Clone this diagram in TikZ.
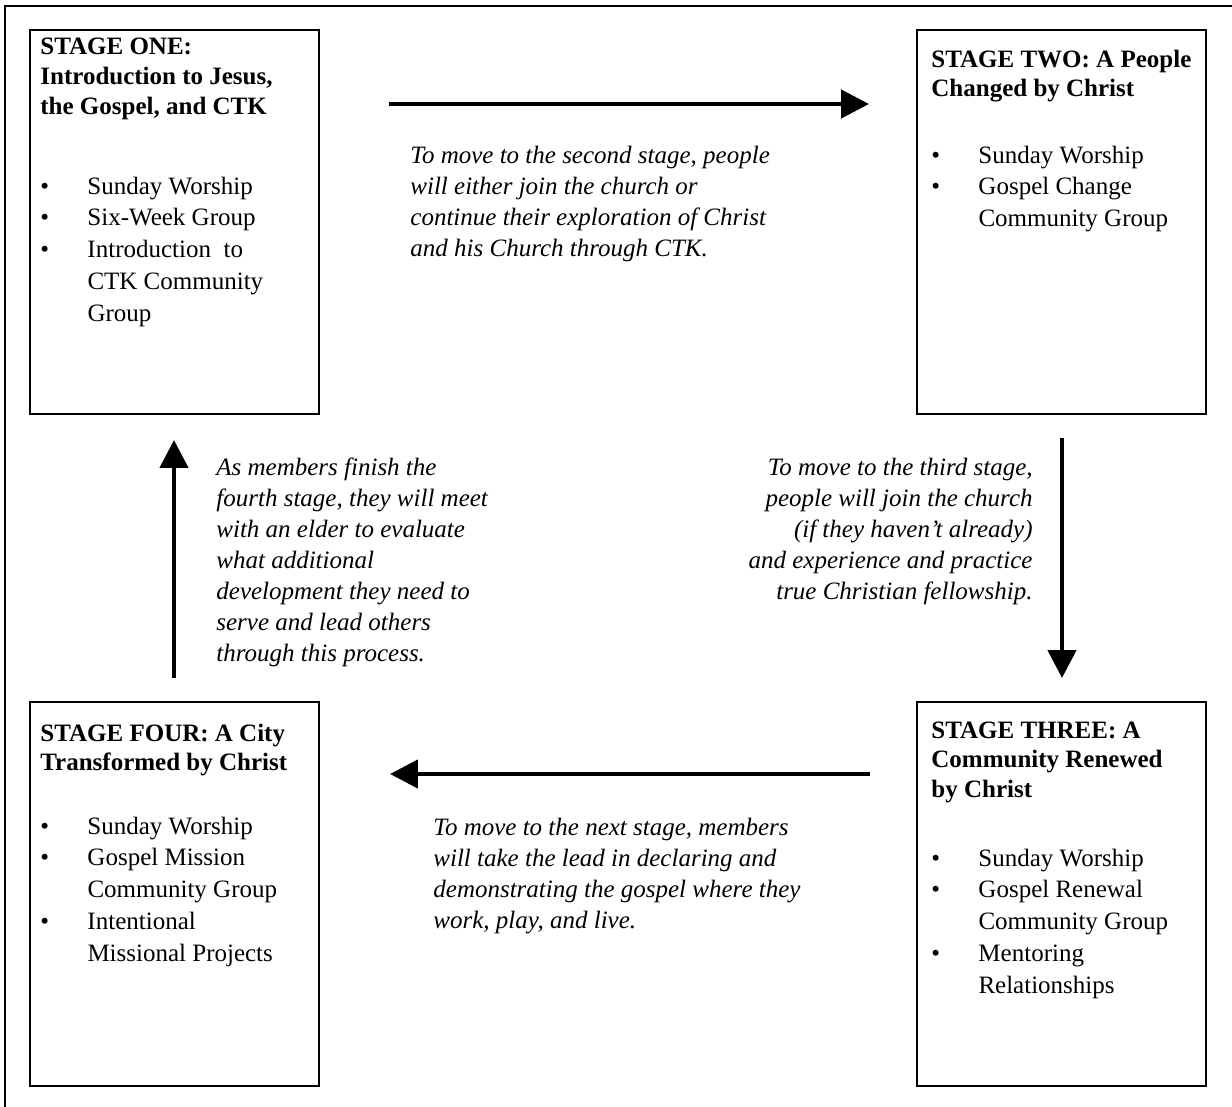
\documentclass[tikz,border=0pt]{standalone}
\usepackage{fontspec}
\setmainfont{Liberation Serif}
\usetikzlibrary{arrows.meta}
\usetikzlibrary{positioning}

\newcommand{\itm}{\makebox[22.6pt][l]{\textbullet}}
\newcommand{\cnt}{\hspace*{22.6pt}}

\begin{document}
\begin{tikzpicture}[x=0.48pt,y=-0.48pt,
  stagebox/.style={draw,line width=1pt,anchor=north west,inner sep=0pt,outer sep=0pt,
    minimum width=138.5pt,minimum height=184.3pt},
  stagehead/.style={anchor=base west,align=flush left,inner sep=0pt,text width=150pt,font=\bfseries\fontsize{12}{14.3}\selectfont},
  stagelist/.style={anchor=base west,align=flush left,inner sep=0pt,text width=150pt,font=\fontsize{12}{15.3}\selectfont},
  note/.style={anchor=base west,align=flush left,inner sep=0pt,text width=200pt,font=\itshape\fontsize{12}{14.9}\selectfont},
  flow/.style={line width=2.2pt,-{Triangle[length=13.4pt,width=13.4pt]}}]
  \useasboundingbox (0,0) rectangle (1232,1107);
  \draw[line width=1pt] (5,1107) |- (1232,6);

  % the four stages
  \node[stagebox] (one) at (30,30) {};
  \node[stagebox] (two) at (917,30) {};
  \node[stagebox] (three) at (917,702) {};
  \node[stagebox] (four) at (30,702) {};

  \node[stagehead] (onehead) at (40,55) {STAGE ONE:\\Introduction to Jesus,\\the Gospel, and CTK};
  \node[stagelist] (onelist) at (40,194) {\itm Sunday Worship\\\itm Six-Week Group\\\itm Introduction~ to\\\cnt CTK Community\\\cnt Group};

  \node[stagehead] (twohead) at (931,67) {STAGE TWO: A People\\Changed by Christ};
  \node[stagelist] (twolist) at (931,163) {\itm Sunday Worship\\\itm Gospel Change\\\cnt Community Group};

  \node[stagehead] (threehead) at (931,738) {STAGE THREE: A\\Community Renewed\\by Christ};
  \node[stagelist] (threelist) at (931,866) {\itm Sunday Worship\\\itm Gospel Renewal\\\cnt Community Group\\\itm Mentoring\\\cnt Relationships};

  \node[stagehead] (fourhead) at (40,741) {STAGE FOUR: A City\\Transformed by Christ};
  \node[stagelist] (fourlist) at (40,834) {\itm Sunday Worship\\\itm Gospel Mission\\\cnt Community Group\\\itm Intentional\\\cnt Missional Projects};

  % notes between the stages
  \node[note] (totwo) at (410,163) {To move to the second stage, people\\will either join the church or\\continue their exploration of Christ\\and his Church through CTK.};
  \node[note,anchor=base east,align=flush right,text width=170pt] (tothree) at (1033,475) {To move to the third stage,\\people will join the church\\(if they haven’t already)\\and experience and practice\\true Christian fellowship.};
  \node[note] (tofour) at (433,835) {To move to the next stage, members\\will take the lead in declaring and\\demonstrating the gospel where they\\work, play, and live.};
  \node[note] (toone) at (216,475) {As members finish the\\fourth stage, they will meet\\with an elder to evaluate\\what additional\\development they need to\\serve and lead others\\through this process.};

  % arrows
  \coordinate (s12) at (389,104);
  \coordinate (e12) at (869,104);
  \coordinate (s23) at (1062,438);
  \coordinate (e23) at (1062,678);
  \coordinate (s34) at (870,774);
  \coordinate (e34) at (390,774);
  \coordinate (s41) at (174,678);
  \coordinate (e41) at (174,440);
  \draw[flow] (s12) -- (e12);
  \draw[flow] (s23) -- (e23);
  \draw[flow] (s34) -- (e34);
  \draw[flow] (s41) -- (e41);
\end{tikzpicture}
\end{document}
